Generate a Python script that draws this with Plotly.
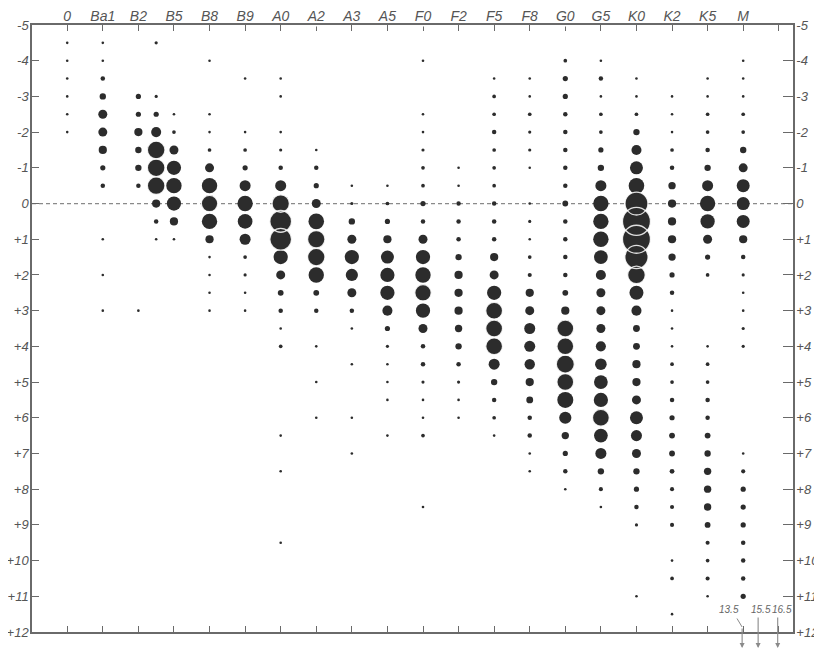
import math
import plotly.graph_objects as go

# ---- categories / tick labels ----
spectral_labels = ["0", "Ba1", "B2", "B5", "B8", "B9", "A0", "A2", "A3", "A5",
                   "F0", "F2", "F5", "F8", "G0", "G5", "K0", "K2", "K5", "M", ""]
spectral_pos = list(range(21))
mag_ticks = list(range(-5, 13))
mag_tick_text = ["-5", "-4", "-3", "-2", "-1", "0", "+1", "+2", "+3", "+4", "+5",
                 "+6", "+7", "+8", "+9", "+10", "+11", "+12"]

# ---- relative numbers of stars: {absolute magnitude: count} for each spectral column ----
col_O = {-4.5: 1, -4: 1, -3.5: 1, -3: 1, -2.5: 1, -2: 1}
col_Ba1 = {-4.5: 1, -4: 1, -3.5: 3, -3: 6, -2.5: 12, -2: 12, -1.5: 10, -1: 4, -0.5: 3,
           1: 1, 2: 1, 3: 1}
col_B2 = {-3: 4, -2.5: 4, -2: 10, -1.5: 6, -1: 6, -0.5: 3, 3: 1}
col_B3 = {-4.5: 1.5, -3: 1.5, -2.5: 4, -2: 15, -1.5: 46, -1: 46, -0.5: 46, 0: 10,
          0.5: 3, 1: 1}
col_B5 = {-2.5: 1, -2: 2, -1.5: 12, -1: 30, -0.5: 35, 0: 30, 0.5: 10, 1: 1}
col_B8 = {-4: 1, -2.5: 1, -2: 1, -1.5: 2, -1: 12, -0.5: 35, 0: 40, 0.5: 35, 1: 10,
          1.5: 1, 2: 1, 2.5: 1, 3: 1}
col_B9 = {-3.5: 1, -2: 1, -1.5: 2, -1: 4, -0.5: 18, 0: 35, 0.5: 32, 1: 18, 1.5: 2,
          2: 1.5, 2.5: 1, 3: 1}
col_A0 = {-3.5: 1, -3: 1, -2: 1, -1.5: 1.5, -1: 3, -0.5: 18, 0: 45, 0.5: 70, 1: 70,
          1.5: 30, 2: 12, 2.5: 5, 3: 3, 3.5: 1, 4: 2, 6.5: 1, 7.5: 1, 9.5: 1}
col_A2 = {-1.5: 1, -1: 3, -0.5: 4, 0: 12, 0.5: 36, 1: 45, 1.5: 45, 2: 35, 2.5: 5,
          3: 3, 4: 1, 5: 1, 6: 1}
col_A3 = {-0.5: 1, 0: 1.5, 0.5: 6, 1: 12, 1.5: 30, 2: 22, 2.5: 12, 3: 3, 3.5: 1,
          4.5: 1, 6: 1, 7: 1}
col_A5 = {-0.5: 1, 0: 2, 0.5: 4, 1: 10, 1.5: 25, 2: 30, 2.5: 30, 3: 15, 3.5: 4,
          4: 1.5, 4.5: 1, 5: 1, 5.5: 1, 6.5: 1}
col_F0 = {-4: 1, -2.5: 1, -2: 1, -1.5: 1.5, -1: 2, -0.5: 2, 0: 4, 0.5: 3, 1: 12,
          1.5: 30, 2: 35, 2.5: 40, 3: 30, 3.5: 12, 4: 3, 4.5: 3, 5: 1.5, 5.5: 1,
          6: 1, 6.5: 2, 8.5: 1}
col_F2 = {-1: 1, -0.5: 1, 0: 3, 0.5: 3, 1: 3, 1.5: 6, 2: 10, 2.5: 10, 3: 10, 3.5: 8,
          4: 6, 4.5: 3, 5: 1.5, 5.5: 1, 6: 1}
col_F5 = {-3.5: 1, -3: 2, -2.5: 2, -2: 3, -1.5: 2, -1: 2, -0.5: 2, 0: 3, 0.5: 3,
          1: 3, 1.5: 10, 2: 12, 2.5: 30, 3: 42, 3.5: 42, 4: 42, 4.5: 18, 5: 6,
          5.5: 3, 6: 2, 6.5: 1}
col_F8 = {-3.5: 1, -3: 1, -2.5: 2, -2: 1.5, -1.5: 1.5, -1: 1, 0: 1, 0.5: 1.5, 1: 1,
          1.5: 2, 2: 2.5, 2.5: 10, 3: 12, 3.5: 18, 4: 18, 4.5: 16, 5: 10, 5.5: 7,
          6: 3, 6.5: 3, 7: 1, 7.5: 1}
col_G0 = {-4: 2, -3.5: 4, -3: 4, -2.5: 3, -2: 3, -1.5: 3, -1: 3, -0.5: 3, 0: 5,
          0.5: 3, 1: 3, 1.5: 3, 2: 3, 2.5: 5, 3: 10, 3.5: 42, 4: 42, 4.5: 48, 5: 42,
          5.5: 38, 6: 22, 6.5: 8, 7: 4, 7.5: 3, 8: 1}
col_G5 = {-4: 1, -3.5: 3, -3: 1, -2.5: 2, -2: 2, -1.5: 4, -1: 6, -0.5: 18, 0: 35,
          0.5: 35, 1: 35, 1.5: 28, 2: 15, 2.5: 12, 3: 12, 3.5: 12, 4: 15, 4.5: 20,
          5: 28, 5.5: 30, 6: 42, 6.5: 28, 7: 18, 7.5: 6, 8: 2.5, 8.5: 1}
col_K0 = {-3.5: 1, -3: 1, -2.5: 2, -2: 6, -1.5: 15, -1: 25, -0.5: 36, 0: 78,
          0.5: 116, 1: 116, 1.5: 80, 2: 46, 2.5: 29, 3: 15, 3.5: 7, 4: 7, 4.5: 10,
          5: 10, 5.5: 12, 6: 25, 6.5: 18, 7: 12, 7.5: 6, 8: 4, 8.5: 3, 9: 1.5, 11: 1}
col_K2 = {-3: 1, -2.5: 1, -2: 1, -1.5: 2, -1: 3, -0.5: 8, 0: 10, 0.5: 10, 1: 10,
          1.5: 8, 2: 4, 2.5: 3, 3: 1, 3.5: 1, 4: 1, 4.5: 2, 5: 2, 5.5: 3, 6: 4,
          6.5: 5, 7: 5, 7.5: 3.5, 8: 2.5, 8.5: 2.5, 9: 2.5, 10: 1, 10.5: 2, 11.5: 1}
col_K5 = {-3.5: 1, -3: 1, -2.5: 2, -2: 2, -1.5: 3, -1: 6, -0.5: 18, 0: 35, 0.5: 30,
          1: 12, 1.5: 4, 2: 2, 4: 1, 4.5: 2, 5: 2, 5.5: 3, 6: 3, 6.5: 5, 7: 6,
          7.5: 8, 8: 8, 8.5: 8, 9: 5, 9.5: 2.5, 10: 2, 10.5: 2.5, 11: 1}
col_M = {-4: 1, -3.5: 1, -3: 1, -2.5: 2, -2: 2, -1.5: 6, -1: 12, -0.5: 25, 0: 25,
         0.5: 25, 1: 10, 1.5: 3, 2: 1.5, 2.5: 1, 3: 1, 3.5: 1.5, 4: 1.5,
         7: 1, 7.5: 2.5, 8: 4, 8.5: 4, 9: 4, 9.5: 3, 10: 3, 10.5: 3, 11: 4}

# spectral position of each column (B3 column has no label)
columns = [(0, col_O), (1, col_Ba1), (2, col_B2), (2.5, col_B3), (3, col_B5),
           (4, col_B8), (5, col_B9), (6, col_A0), (7, col_A2), (8, col_A3),
           (9, col_A5), (10, col_F0), (11, col_F2), (12, col_F5), (13, col_F8),
           (14, col_G0), (15, col_G5), (16, col_K0), (17, col_K2), (18, col_K5),
           (19, col_M)]

# faint stars off the bottom of the diagram (M column)
off_scale_labels = ["13.5", "15.5", "16.5"]
off_scale_pos = [19, 19.45, 20]

# ---- build point lists ----
xs, ys, ns = [], [], []
for pos, col in columns:
    for mag, n in col.items():
        xs.append(pos)
        ys.append(mag)
        ns.append(n)

def diam(n):
    return 2.6 * math.sqrt(n)

sizes = [diam(n) for n in ns]
DOT = "#2c2c2c"
GREY = "#6a6a6a"
FONT = "Liberation Sans, Arial, sans-serif"

fig = go.Figure()
fig.add_trace(go.Scatter(
    x=xs, y=ys, mode="markers",
    marker=dict(size=sizes, color=DOT, opacity=1, line=dict(width=0)),
    hoverinfo="skip", showlegend=False, cliponaxis=False))

# white rims of the large overlapping discs
bx = [x for x, n in zip(xs, ns) if n >= 40]
by = [y for y, n in zip(ys, ns) if n >= 40]
bs = [diam(n) for n in ns if n >= 40]
fig.add_trace(go.Scatter(
    x=bx, y=by, mode="markers",
    marker=dict(size=bs, color="rgba(0,0,0,0)", opacity=1,
                line=dict(width=1.3, color="rgba(255,255,255,0.85)")),
    hoverinfo="skip", showlegend=False))

# dummy trace to activate the right-hand axis
fig.add_trace(go.Scatter(x=[None], y=[None], yaxis="y2", showlegend=False, hoverinfo="skip"))

xtickfont = dict(family=FONT, size=14, color="#555555", style="italic")
ytickfont = dict(family=FONT, size=13, color="#555555", style="italic")

# page body adds an 8px offset: figure is sized to fit the 822x650 window
fig.update_layout(
    width=814, height=642,
    margin=dict(l=24, r=29, t=17, b=18),
    paper_bgcolor="white", plot_bgcolor="white",
    xaxis=dict(range=[-0.99, 20.4], side="top", tickmode="array",
               tickvals=spectral_pos, ticktext=spectral_labels,
               ticks="inside", ticklen=6, tickwidth=1, tickcolor=GREY,
               showline=True, linecolor=GREY, linewidth=1.5, mirror="ticks",
               showgrid=False, zeroline=False, tickfont=xtickfont, automargin=False,
               ticklabelstandoff=-3),
    yaxis=dict(range=[12, -5], tickmode="array", tickvals=mag_ticks,
               ticktext=mag_tick_text, ticks="inside", ticklen=7, tickwidth=1,
               tickcolor=GREY, showline=True, linecolor=GREY, linewidth=1.5,
               showgrid=False, zeroline=False, tickfont=ytickfont, automargin=False,
               ticklabelstandoff=-1),
    yaxis2=dict(range=[12, -5], overlaying="y", side="right", anchor="x",
                tickmode="array", tickvals=mag_ticks, ticktext=mag_tick_text,
                ticks="inside", ticklen=10, tickwidth=1, tickcolor=GREY,
                showline=True, linecolor=GREY, linewidth=1.5, showgrid=False,
                zeroline=False, tickfont=ytickfont, automargin=False,
                ticklabelstandoff=-1),
)

# dashed zero-magnitude line
fig.add_shape(type="line", xref="paper", x0=0, x1=1, yref="y", y0=0, y1=0,
              line=dict(color="#8a8a8a", width=1.3, dash="4px,3px"), layer="below")

# small breaks in the top border at A2, F0, G0
for lab in ["A2", "F0", "G0"]:
    p = spectral_labels.index(lab)
    fig.add_shape(type="line", xref="x", x0=p - 0.1, x1=p + 0.12, yref="y", y0=-5, y1=-5,
                  line=dict(color="white", width=3), layer="above")

# off-scale arrows
afont = dict(family=FONT, size=10, color="#666666", style="italic")
text_x = [18.6, 19.5, 20.08]
for lab, p, tx in zip(off_scale_labels, off_scale_pos, text_x):
    fig.add_annotation(x=tx, y=11.38, xref="x", yref="y", text=lab, showarrow=False,
                       font=afont)
    tail = 11.86 if lab == "13.5" else 11.55
    fig.add_annotation(x=p - 0.03, y=12.45, xref="x", yref="y", ax=p - 0.03, ay=tail,
                       axref="x", ayref="y", text="", showarrow=True, arrowhead=2,
                       arrowsize=0.9, arrowwidth=1.1, arrowcolor="#8a8a8a")
fig.add_annotation(x=18.97, y=11.86, xref="x", yref="y", ax=18.8, ay=11.58,
                   axref="x", ayref="y", text="", showarrow=True, arrowhead=0,
                   arrowwidth=1, arrowcolor="#8a8a8a")

fig.write_html("out.html")
